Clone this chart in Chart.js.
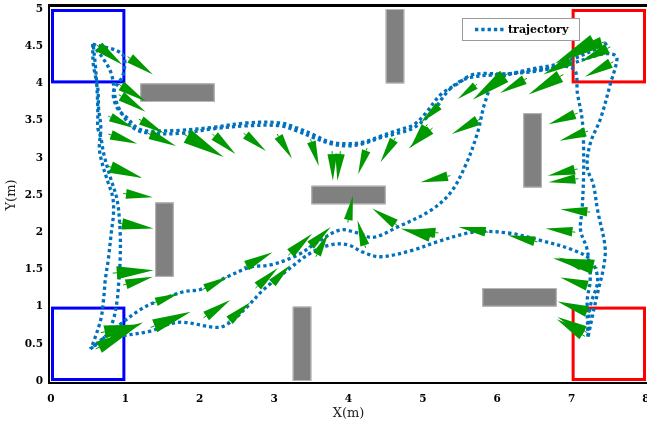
<!DOCTYPE html>
<html>
<head>
<meta charset="utf-8">
<script src="https://cdn.jsdelivr.net/npm/chart.js@4.4.1/dist/chart.umd.min.js"></script>
<style>
  html, body { margin: 0; padding: 0; background: #fff; }
  #wrap { width: 647px; height: 423px; }
</style>
</head>
<body>
<div id="wrap"><canvas id="c" width="647" height="423"></canvas></div>
<script>
// ---- axes ----
const xTicks = [0, 1, 2, 3, 4, 5, 6, 7, 8];
const yTicks = [0, 0.5, 1, 1.5, 2, 2.5, 3, 3.5, 4, 4.5, 5];
const xTickLabels = ['0', '1', '2', '3', '4', '5', '6', '7', '8'];
const yTickLabels = ['0', '0.5', '1', '1.5', '2', '2.5', '3', '3.5', '4', '4.5', '5'];

// ---- obstacles (m) ----
const obsX0 = [1.2, 4.5, 3.5, 1.4, 6.35, 3.25, 5.8];
const obsX1 = [2.2, 4.75, 4.5, 1.65, 6.6, 3.5, 6.8];
const obsY0 = [3.75, 4.0, 2.375, 1.4, 2.6, 0.0, 1.0];
const obsY1 = [4.0, 5.0, 2.625, 2.4, 3.6, 1.0, 1.25];

// ---- start / goal zones (m) ----
const startX0 = [0, 0];
const startY0 = [4, 0];
const goalX0 = [7, 7];
const goalY0 = [4, 0];
const zoneSize = 1;

// ---- trajectories (m) ----
const leftOuterX = [0.56, 0.57, 0.63, 0.64, 0.67, 0.65, 0.69, 0.76, 0.83, 0.84, 0.81, 0.77, 0.73, 0.71, 0.67, 0.57, 0.53];
const leftOuterY = [4.53, 4.25, 3.93, 3.67, 3.40, 3.13, 2.92, 2.69, 2.47, 2.25, 1.99, 1.63, 1.36, 1.13, 0.83, 0.52, 0.43];

const leftInnerX = [0.57, 0.60, 0.62, 0.63, 0.63, 0.67, 0.71, 0.80, 0.89, 0.93, 0.93, 0.91, 0.89, 0.84, 0.76, 0.62];
const leftInnerY = [4.50, 4.20, 3.90, 3.60, 3.40, 3.27, 3.05, 2.73, 2.43, 1.99, 1.63, 1.32, 1.09, 0.83, 0.65, 0.47];

const topUpperX = [0.56, 0.80, 0.89, 1.11, 1.34, 1.74, 2.18, 2.64, 3.08, 3.31, 3.53, 3.76, 3.99, 4.20, 4.43, 4.66, 4.87, 5.10, 5.37, 5.60, 6.04, 6.49, 6.94, 7.39, 7.56, 7.61, 7.52, 7.39, 7.25, 7.21, 7.29, 7.35, 7.45, 7.43, 7.36, 7.29, 7.22];
const topUpperY = [4.53, 4.16, 3.72, 3.40, 3.33, 3.33, 3.39, 3.43, 3.43, 3.36, 3.27, 3.19, 3.16, 3.19, 3.27, 3.33, 3.40, 3.59, 3.93, 4.07, 4.12, 4.16, 4.25, 4.39, 4.39, 4.33, 3.99, 3.53, 3.19, 2.87, 2.65, 2.29, 1.80, 1.53, 1.23, 0.92, 0.59];

const topLowerX = [0.56, 0.96, 0.97, 0.84, 0.89, 1.03, 1.16, 1.30, 1.47, 1.74, 2.18, 2.64, 3.08, 3.31, 3.53, 3.76, 3.99, 4.20, 4.43, 4.66, 4.87, 5.03, 5.24, 5.46, 5.68, 6.14, 6.58, 7.02, 7.08, 7.14, 7.16, 7.16, 7.14, 7.12, 7.21, 7.25, 7.21, 7.22];
const topLowerY = [4.53, 4.39, 4.12, 3.89, 3.67, 3.53, 3.40, 3.36, 3.36, 3.37, 3.41, 3.47, 3.47, 3.40, 3.31, 3.21, 3.19, 3.21, 3.29, 3.37, 3.44, 3.59, 3.85, 3.99, 4.12, 4.13, 4.19, 4.20, 3.85, 3.53, 3.19, 2.73, 2.29, 2.03, 1.76, 1.36, 1.09, 0.60];

const crossUpperX = [0.53, 0.89, 1.20, 1.38, 1.78, 2.01, 2.37, 2.68, 2.95, 3.31, 3.62, 3.89, 4.12, 4.33, 4.66, 5.10, 5.37, 5.57, 5.73, 5.84, 5.97, 6.31, 6.85, 7.39, 7.50];
const crossUpperY = [0.43, 0.73, 0.96, 1.05, 1.20, 1.23, 1.40, 1.53, 1.56, 1.69, 1.89, 2.03, 1.99, 1.93, 2.07, 2.29, 2.53, 2.89, 3.32, 3.76, 4.03, 4.16, 4.27, 4.49, 4.56];

const crossLowerX = [0.57, 0.89, 1.34, 1.57, 1.78, 2.24, 2.41, 2.64, 2.86, 3.18, 3.49, 3.76, 3.99, 4.20, 4.43, 4.87, 5.19, 5.68, 6.14, 6.58, 7.02, 7.25, 7.35, 7.25, 7.22];
const crossLowerY = [0.47, 0.59, 0.67, 0.76, 0.79, 0.72, 0.79, 1.00, 1.23, 1.49, 1.72, 1.83, 1.83, 1.73, 1.67, 1.76, 1.87, 2.00, 1.99, 1.89, 1.76, 1.63, 1.36, 1.00, 0.59];

// ---- direction arrows: origin (m) and vector (m) ----
const arrowX = [0.61, 1.03, 0.91, 0.91, 0.77, 1.18, 1.30, 0.77, 0.76, 0.97, 0.91, 0.83, 0.97, 0.67, 0.60, 0.76, 1.34, 1.38, 2.04, 2.05, 2.37,
  2.59, 3.19, 3.46, 3.56, 2.75, 2.95, 3.99, 4.23, 4.66, 5.14, 5.21,
  1.78, 2.17, 2.59, 3.04, 3.49, 3.78, 3.89, 4.25, 4.63, 5.06, 5.13, 5.24, 5.73, 6.14, 6.40, 6.89, 7.02, 7.56, 7.52, 7.45, 7.36, 5.77,
  7.08, 7.22, 7.08, 7.09, 5.37, 7.25, 7.05, 5.88, 6.54, 7.35, 7.16, 7.25, 7.25, 7.21, 7.18];
const arrowY = [4.52, 4.36, 3.99, 3.85, 3.56, 3.52, 3.33, 3.32, 2.89, 2.52, 2.12, 1.45, 1.29, 0.65, 0.43, 0.56, 0.72, 1.05, 1.23, 0.85, 0.79,
  1.53, 1.69, 1.80, 1.67, 1.25, 1.29, 2.13, 1.79, 2.09, 1.93, 1.99,
  3.32, 3.32, 3.33, 3.32, 3.25, 3.09, 3.09, 3.13, 3.27, 3.45, 3.40, 3.72, 3.99, 4.13, 4.07, 4.12, 4.33, 4.29, 4.49, 4.56, 4.59, 3.52,
  3.60, 3.36, 2.85, 2.72, 2.76, 2.27, 2.00, 2.00, 1.87, 1.52, 1.53, 1.27, 0.92, 0.65, 0.60];
const arrowU = [0.35, 0.34, 0.36, 0.36, 0.34, 0.34, 0.38, 0.39, 0.47, 0.40, 0.47, 0.55, 0.40, 0.54, 0.47, 0.48, 0.54, 0.34, 0.34, 0.36, 0.31,
  0.39, 0.32, 0.30, 0.17, 0.30, 0.27, 0.07, -0.11, -0.34, -0.44, -0.42,
  0.54, 0.31, 0.30, 0.20, 0.11, 0.01, -0.04, -0.12, -0.20, -0.23, -0.32, -0.27, -0.26, -0.47, -0.36, -0.47, -0.40, -0.38, -0.40, -0.47, -0.58, -0.38,
  -0.39, -0.38, -0.40, -0.40, -0.40, -0.40, -0.40, -0.40, -0.40, -0.60, -0.34, -0.40, -0.44, -0.40, -0.38];
const arrowV = [-0.27, -0.24, -0.23, -0.23, -0.16, -0.19, -0.17, -0.13, -0.16, -0.05, -0.07, 0.04, 0.11, 0.11, 0.24, 0.23, 0.21, 0.13, 0.17, 0.24, 0.27,
  0.20, 0.29, 0.27, 0.32, 0.27, 0.27, 0.36, 0.37, 0.23, 0.12, 0.04,
  -0.31, -0.27, -0.24, -0.33, -0.36, -0.40, -0.40, -0.35, -0.33, -0.32, -0.27, -0.25, -0.20, -0.35, -0.20, -0.27, -0.21, -0.20, -0.20, -0.13, -0.32, -0.20,
  -0.15, -0.13, -0.09, -0.05, -0.09, 0.04, 0.05, 0.07, 0.09, 0.13, 0.13, 0.12, 0.15, 0.21, 0.23];

// ---- style ----
const TRAJ_COLOR = 'rgb(0,114,189)';
const ARROW_COLOR = '#009900';
const TICK_FONT = { family: '"DejaVu Serif", serif', size: 10.5, weight: 'bold' };
const TITLE_FONT = { family: '"DejaVu Serif", serif', size: 13, weight: 'normal' };

const toPoints = (xs, ys) => xs.map((x, i) => ({ x, y: ys[i] }));

const paths = [
  [leftOuterX, leftOuterY],
  [leftInnerX, leftInnerY],
  [topUpperX, topUpperY],
  [topLowerX, topLowerY],
  [crossUpperX, crossUpperY],
  [crossLowerX, crossLowerY]
];

const datasets = paths.map(([xs, ys], i) => ({
  label: i === 0 ? 'trajectory' : '',
  data: toPoints(xs, ys),
  showLine: true,
  borderColor: TRAJ_COLOR,
  borderWidth: 3.3,
  borderDash: [3.3, 3],
  borderCapStyle: 'butt',
  tension: 0.35,
  pointRadius: 0,
  pointHoverRadius: 0,
  fill: false
}));

// Obstacles, zones, arrows, frame and legend drawn with the chart's own scales
const scenePlugin = {
  id: 'scene',
  beforeDatasetsDraw(chart) {
    const { ctx, scales: { x, y } } = chart;
    ctx.save();
    // obstacles
    for (let i = 0; i < obsX0.length; i++) {
      const l = x.getPixelForValue(obsX0[i]);
      const r = x.getPixelForValue(obsX1[i]);
      const t = y.getPixelForValue(obsY1[i]);
      const b = y.getPixelForValue(obsY0[i]);
      ctx.fillStyle = '#808080';
      ctx.fillRect(l, t, r - l, b - t);
      ctx.strokeStyle = '#b8b8b8';
      ctx.lineWidth = 1;
      ctx.strokeRect(l + 0.5, t + 0.5, r - l - 1, b - t - 1);
    }
    // zones (stroke kept inside the square)
    const zone = (x0, y0, color) => {
      const l = x.getPixelForValue(x0);
      const r = x.getPixelForValue(x0 + zoneSize);
      const t = y.getPixelForValue(y0 + zoneSize);
      const b = y.getPixelForValue(y0);
      ctx.strokeStyle = color;
      ctx.lineWidth = 3;
      ctx.strokeRect(l + 1.5, t + 1.5, r - l - 3, b - t - 3);
    };
    startX0.forEach((sx, i) => zone(sx, startY0[i], '#0000ff'));
    goalX0.forEach((gx, i) => zone(gx, goalY0[i], '#ff0000'));

    // axes frame
    const a = chart.chartArea;
    ctx.strokeStyle = '#000';
    ctx.lineWidth = 2;
    ctx.beginPath();
    ctx.moveTo(a.left - 2, a.top - 3.5);
    ctx.lineTo(a.left - 2, a.bottom + 2);
    ctx.lineTo(a.right + 4, a.bottom + 2);
    ctx.stroke();
    ctx.lineWidth = 3;
    ctx.beginPath();
    ctx.moveTo(a.left - 3, a.top - 3.5);
    ctx.lineTo(a.right + 4, a.top - 3.5);
    ctx.stroke();
    ctx.restore();
  },
  afterDatasetsDraw(chart) {
    const { ctx, scales: { x, y } } = chart;
    ctx.save();
    ctx.fillStyle = ARROW_COLOR;
    ctx.strokeStyle = ARROW_COLOR;
    for (let i = 0; i < arrowX.length; i++) {
      const ox = x.getPixelForValue(arrowX[i]);
      const oy = y.getPixelForValue(arrowY[i]);
      const tx = x.getPixelForValue(arrowX[i] + arrowU[i]);
      const ty = y.getPixelForValue(arrowY[i] + arrowV[i]);
      const dx = tx - ox, dy = ty - oy;
      const len = Math.hypot(dx, dy);
      if (len < 1) continue;
      const nx = -dy / len, ny = dx / len;
      const bx = ox + dx * 0.1, by = oy + dy * 0.1;
      const hw = len * 0.16;
      ctx.lineWidth = 1;
      ctx.beginPath();
      ctx.moveTo(ox, oy);
      ctx.lineTo(bx, by);
      ctx.stroke();
      ctx.beginPath();
      ctx.moveTo(bx + nx * hw, by + ny * hw);
      ctx.lineTo(tx, ty);
      ctx.lineTo(bx - nx * hw, by - ny * hw);
      ctx.closePath();
      ctx.fill();
    }
    ctx.restore();
  },
  afterDraw(chart) {
    const { ctx } = chart;
    const a = chart.chartArea;
    const l = a.right - 184, t = a.top + 9, w = 118, h = 23;
    ctx.save();
    ctx.fillStyle = '#fff';
    ctx.fillRect(l, t, w, h);
    ctx.strokeStyle = '#9a9a9a';
    ctx.lineWidth = 1;
    ctx.strokeRect(l + 0.5, t + 0.5, w - 1, h - 1);
    ctx.strokeStyle = TRAJ_COLOR;
    ctx.lineWidth = 3.3;
    ctx.setLineDash([3.3, 3]);
    ctx.beginPath();
    ctx.moveTo(l + 13, t + h / 2);
    ctx.lineTo(l + 42, t + h / 2);
    ctx.stroke();
    ctx.setLineDash([]);
    ctx.fillStyle = '#000';
    ctx.font = 'bold 11px "DejaVu Serif", serif';
    ctx.textBaseline = 'middle';
    ctx.textAlign = 'left';
    ctx.fillText(datasets[0].label, l + 46, t + h / 2 + 0.5);
    ctx.restore();
  }
};

new Chart(document.getElementById('c'), {
  type: 'scatter',
  data: { datasets },
  options: {
    responsive: false,
    animation: false,
    devicePixelRatio: 1,
    layout: { padding: { top: 9, right: 1, left: 0, bottom: 0 } },
    plugins: { legend: { display: false }, tooltip: { enabled: false } },
    scales: {
      x: {
        type: 'linear',
        min: 0, max: 8,
        afterBuildTicks: s => { s.ticks = xTicks.map(v => ({ value: v })); },
        afterFit: s => { s.height = 42; s.paddingLeft = 0; s.paddingRight = 0; },
        grid: { display: false, drawTicks: false },
        border: { display: false },
        ticks: {
          color: '#000', font: TICK_FONT, padding: 12, maxRotation: 0, autoSkip: false,
          callback: v => xTickLabels[xTicks.indexOf(v)]
        },
        title: { display: true, text: 'X(m)', color: '#222', font: TITLE_FONT, padding: { top: 0, bottom: 2 } }
      },
      y: {
        type: 'linear',
        min: 0, max: 5,
        afterBuildTicks: s => { s.ticks = yTicks.map(v => ({ value: v })); },
        afterFit: s => { s.width = 51; s.paddingTop = 0; s.paddingBottom = 0; },
        grid: { display: false, drawTicks: false },
        border: { display: false },
        ticks: {
          color: '#000', font: TICK_FONT, padding: 8, autoSkip: false,
          callback: v => yTickLabels[yTicks.indexOf(v)]
        },
        title: { display: true, text: 'Y(m)', color: '#222', font: TITLE_FONT, padding: { top: 4, bottom: 0 } }
      }
    }
  },
  plugins: [scenePlugin]
});
</script>
</body>
</html>
